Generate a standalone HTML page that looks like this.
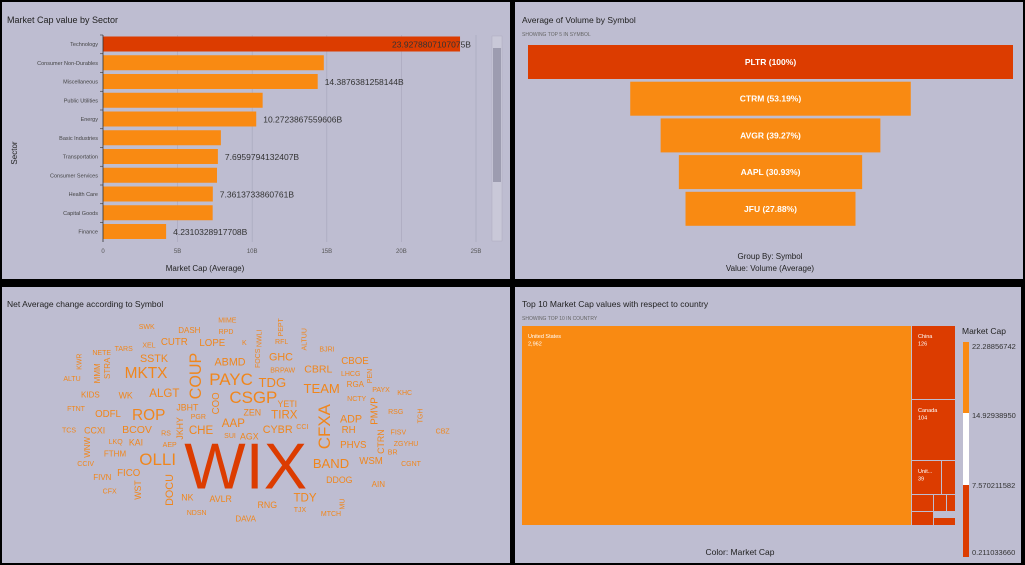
<!DOCTYPE html>
<html><head><meta charset="utf-8"><style>
html,body{margin:0;padding:0;background:#000;}
svg{display:block;font-family:"Liberation Sans",sans-serif;}
</style></head><body>
<svg id="dash" width="1025" height="565" viewBox="0 0 1025 565" xmlns="http://www.w3.org/2000/svg">
<rect x="0" y="0" width="1025" height="565" fill="#000"/>
<rect x="2" y="2" width="508" height="277" fill="#bebdd1"/>
<rect x="515" y="2" width="508" height="277" fill="#bebdd1"/>
<rect x="2" y="287" width="508" height="276" fill="#bebdd1"/>
<rect x="515" y="287" width="508" height="276" fill="#bebdd1"/>
<g id="bars"></g><g id="funnel"></g><g id="cloud"></g><g id="tree"></g>
</svg>
<script>
const NS="http://www.w3.org/2000/svg";
function mk(parent,tag,attrs,txt){const e=document.createElementNS(NS,tag);for(const k in attrs)e.setAttribute(k,attrs[k]);if(txt!==undefined)e.textContent=txt;parent.appendChild(e);return e;}
const ORANGE="#f98a12", RED="#dc3c00", TXT="#222";

// ---------- Bar chart data ----------
const sectors=["Technology","Consumer Non-Durables","Miscellaneous","Public Utilities","Energy","Basic Industries","Transportation","Consumer Services","Health Care","Capital Goods","Finance"];
const sectorValues=[23.93,14.8,14.39,10.7,10.27,7.9,7.70,7.64,7.36,7.35,4.23];
const sectorLabels=["23.9278807107075B","","14.3876381258144B","","10.2723867559606B","","7.6959794132407B","","7.3613733860761B","","4.2310328917708B"];
const xTicks=[0,5,10,15,20,25];
const xTickLabels=["0","5B","10B","15B","20B","25B"];

const gB=document.getElementById('bars');
mk(gB,'text',{x:7,y:23,'font-size':9,fill:TXT,},'Market Cap value by Sector');
const bx=v=>103+v*14.92;
const rowY=i=>35+i*18.75;
xTicks.forEach((t,i)=>{
  if(i>0){const l=mk(gB,'line',{x1:bx(t),x2:bx(t),y1:35,y2:242,stroke:'#a9a8bd','stroke-width':0.7});
  }
  const tl=mk(gB,'text',{x:bx(t),y:253,'font-size':6,fill:'#555','text-anchor':'middle'},xTickLabels[i]);
  
});
sectors.forEach((s,i)=>{
  const y=rowY(i);
  const r=mk(gB,'rect',{x:103,y:y+1.5,width:bx(sectorValues[i])-103,height:15,fill:i===0?RED:ORANGE});
  
  
  const lb=mk(gB,'text',{x:98,y:y+11,'font-size':5.5,fill:'#444','text-anchor':'end'},s);
  
  mk(gB,'line',{x1:100,x2:103,y1:y,y2:y,stroke:'#333','stroke-width':0.6});
  if(sectorLabels[i]){
    const vx=i===0?bx(sectorValues[i])-68:bx(sectorValues[i])+7;
    const vl=mk(gB,'text',{x:vx,y:y+12.5,'font-size':8.5,fill:'#333'},sectorLabels[i]);
    
  }
});
mk(gB,'line',{x1:103,x2:103,y1:35,y2:242,stroke:'#333','stroke-width':0.8});
mk(gB,'text',{x:205,y:271,'font-size':8,fill:TXT,'text-anchor':'middle',},'Market Cap (Average)');
mk(gB,'text',{x:0,y:0,'font-size':8,fill:TXT,'text-anchor':'middle',transform:'translate(17,153) rotate(-90)',},'Sector');
mk(gB,'rect',{x:492,y:36,width:10,height:205,fill:'#c9c8d8',stroke:'#adacc0','stroke-width':0.5,});
mk(gB,'rect',{x:493,y:48,width:8,height:134,fill:'#9d9cb0',});

// ---------- Funnel ----------
const funnelSymbols=["PLTR","CTRM","AVGR","AAPL","JFU"];
const funnelPct=[100,53.19,39.27,30.93,27.88];
const gF=document.getElementById('funnel');
mk(gF,'text',{x:522,y:23,'font-size':8.5,fill:TXT,},'Average of Volume by Symbol');
mk(gF,'text',{x:522,y:36,'font-size':5,fill:'#666',},'SHOWING TOP 5 IN SYMBOL');
const fw=p=>48.2+4.368*p;
funnelSymbols.forEach((s,i)=>{
  const w=fw(funnelPct[i]),y=45+i*36.7;
  const r=mk(gF,'rect',{x:770.5-w/2,y:y,width:w,height:34,fill:i===0?RED:ORANGE});
  
  
  const t=mk(gF,'text',{x:770.5,y:y+20,'font-size':8.5,fill:'#fff','font-weight':'bold','text-anchor':'middle'},s+' ('+funnelPct[i]+'%)');
  
});
mk(gF,'text',{x:770,y:259,'font-size':8,fill:TXT,'text-anchor':'middle',},'Group By: Symbol');
mk(gF,'text',{x:770,y:271,'font-size':8,fill:TXT,'text-anchor':'middle',},'Value: Volume (Average)');

// ---------- Word cloud ----------
const words=["MIME","SWK","DASH","RPD","PEPT","NWLI","ALTUU","K","RFL","CUTR","LOPE","XEL","TARS","BJRI","NETE","KWR","FOCS","COUP","ABMD","GHC","SSTK","CBOE","MMM","STRA","MKTX","BRPAW","CBRL","LHCG","PEN","PAYC","TDG","ALTU","RGA","TEAM","PAYX","KHC","KIDS","WK","ALGT","COO","CSGP","NCTY","PMVP","YETI","JBHT","FTNT","ODFL","ROP","ZEN","TIRX","CFXA","PGR","ADP","RSG","TGH","AAP","JKHY","CCI","TCS","CCXI","BCOV","RS","CHE","CYBR","RH","CTRN","FISV","CBZ","SUI","AGX","WNW","LKQ","KAI","AEP","PHVS","ZGYHU","BR","FTHM","WIX","OLLI","BAND","WSM","CCIV","CGNT","FICO","FIVN","DOCU","WST","DDOG","AIN","CFX","NK","AVLR","TDY","RNG","MU","TJX","NDSN","MTCH","DAVA"];
const wordWeights=[7,7,8,7,7,7,7,7,7,11,11,7,7,7,7,7,7,21,14,14,14,11,8,8,20,7,12,7,7,22,17,7,8,17,7,7,8,10,15,11,22,7,11,10,10,7,11,20,10,15,22,7,14,7,7,15,10,7,7,10,12,7,15,14,11,10,7,7,7,10,8,7,10,7,11,7,7,8,65,22,17,11,7,7,11,8,14,10,10,8,7,10,10,15,10,7,7,7,7,8];
const cloudLayout=[[682,93,0],[440,113,0],[568,122,0],[678,128,0],[845,112,1],[780,145,1],[915,148,1],[733,160,0],[845,157,0],[523,158,0],[637,160,0],[447,168,0],[371,178,0],[981,180,0],[305,190,0],[240,215,1],[776,205,1],[588,258,1],[690,217,0],[843,203,0],[462,207,0],[1065,215,0],[292,250,1],[323,235,1],[438,250,0],[848,243,0],[955,238,0],[1052,254,0],[1112,258,1],[693,268,0],[817,277,0],[216,268,0],[1066,283,0],[965,296,0],[1143,301,0],[1214,311,0],[271,315,0],[377,316,0],[493,312,0],[650,340,1],[760,323,0],[1070,329,0],[1125,363,1],[862,342,0],[562,352,0],[228,359,0],[324,373,0],[446,376,0],[757,368,0],[853,376,0],[973,410,1],[595,383,0],[1053,388,0],[1187,367,0],[1263,378,1],[700,402,0],[540,415,1],[907,413,0],[207,423,0],[284,422,0],[411,420,0],[498,432,0],[603,423,0],[833,420,0],[1046,422,0],[1143,455,1],[1195,429,0],[1328,426,0],[690,440,0],[748,440,0],[262,472,1],[347,458,0],[408,457,0],[509,466,0],[1060,466,0],[1218,463,0],[1178,489,0],[345,492,0],[737,528,0],[473,508,0],[993,520,0],[1113,515,0],[257,523,0],[1233,523,0],[386,551,0],[307,563,0],[510,600,1],[414,600,1],[1018,570,0],[1135,583,0],[329,606,0],[562,623,0],[662,627,0],[915,626,0],[802,645,0],[1029,642,1],[900,662,0],[590,671,0],[993,674,0],[737,687,0]];
const gC=document.getElementById('cloud');
mk(gC,'text',{x:7,y:307,'font-size':8.5,fill:TXT,},'Net Average change according to Symbol');
const maxW=Math.max(...wordWeights);
function dispSize(fs){if(fs===maxW)return fs;if(fs>=14)return fs*0.77;if(fs>=10)return fs*0.88;return fs;}
words.forEach((w,i)=>{
  const L=cloudLayout[i];const cx=L[0]/3,cy=L[1]/3+290;const fs=wordWeights[i];
  const t=mk(gC,'text',{x:0,y:0,'font-size':dispSize(fs),fill:fs===maxW?RED:'#f0861c','text-anchor':'middle','dominant-baseline':'central',transform:'translate('+cx+','+cy+')'+(L[2]?' rotate(-90)':'')},w);
  
  
});

// ---------- Treemap ----------
const countries=["United States","China","Canada","United Kingdom"];
const countryCounts=["2,962","126","104","39"];
const legendTicks=["22.28856742","14.92938950","7.570211582","0.211033660"];
const gT=document.getElementById('tree');
mk(gT,'text',{x:522,y:307,'font-size':8.5,fill:TXT,},'Top 10 Market Cap values with respect to country');
mk(gT,'text',{x:522,y:320,'font-size':5,fill:'#666',},'SHOWING TOP 10 IN COUNTRY');
const cells=[[522,326,389,199,ORANGE,0],[912,326,43,73,RED,1],[912,400,43,60,RED,2],[912,461,29,33,RED,3],[942,461,13,33,RED,-1],[912,495,21,16,RED,-1],[934,495,12,16,RED,-1],[947,495,8,16,RED,-1],[912,512,21,13,RED,-1],[934,518,21,7,RED,-1]];
cells.forEach(c=>{
  const r=mk(gT,'rect',{x:c[0],y:c[1],width:c[2],height:c[3],fill:c[4]});
  
  
  if(c[5]>=0){
    const nm=c[5]===3?'Unit...':countries[c[5]];
    mk(gT,'text',{x:c[0]+6,y:c[1]+12,'font-size':5.5,fill:'#fff'},nm);
    mk(gT,'text',{x:c[0]+6,y:c[1]+19.5,'font-size':5.5,fill:'#fff'},countryCounts[c[5]]);
  }
});
mk(gT,'text',{x:740,y:555,'font-size':8.5,fill:TXT,'text-anchor':'middle',},'Color: Market Cap');
mk(gT,'text',{x:962,y:334,'font-size':8.5,fill:TXT,},'Market Cap');
mk(gT,'rect',{x:963,y:342,width:6,height:71,fill:ORANGE,});
mk(gT,'rect',{x:963,y:413,width:6,height:72,fill:'#fff',});
mk(gT,'rect',{x:963,y:485,width:6,height:72,fill:RED,});
legendTicks.forEach((t,i)=>{
  const y=[349,418,488,555][i];
  const e=mk(gT,'text',{x:972,y:y,'font-size':7.5,fill:'#333'},t);
  
});
mk(gT,'rect',{x:1021,y:287,width:4,height:278,fill:'#000'});
</script>
</body></html>
